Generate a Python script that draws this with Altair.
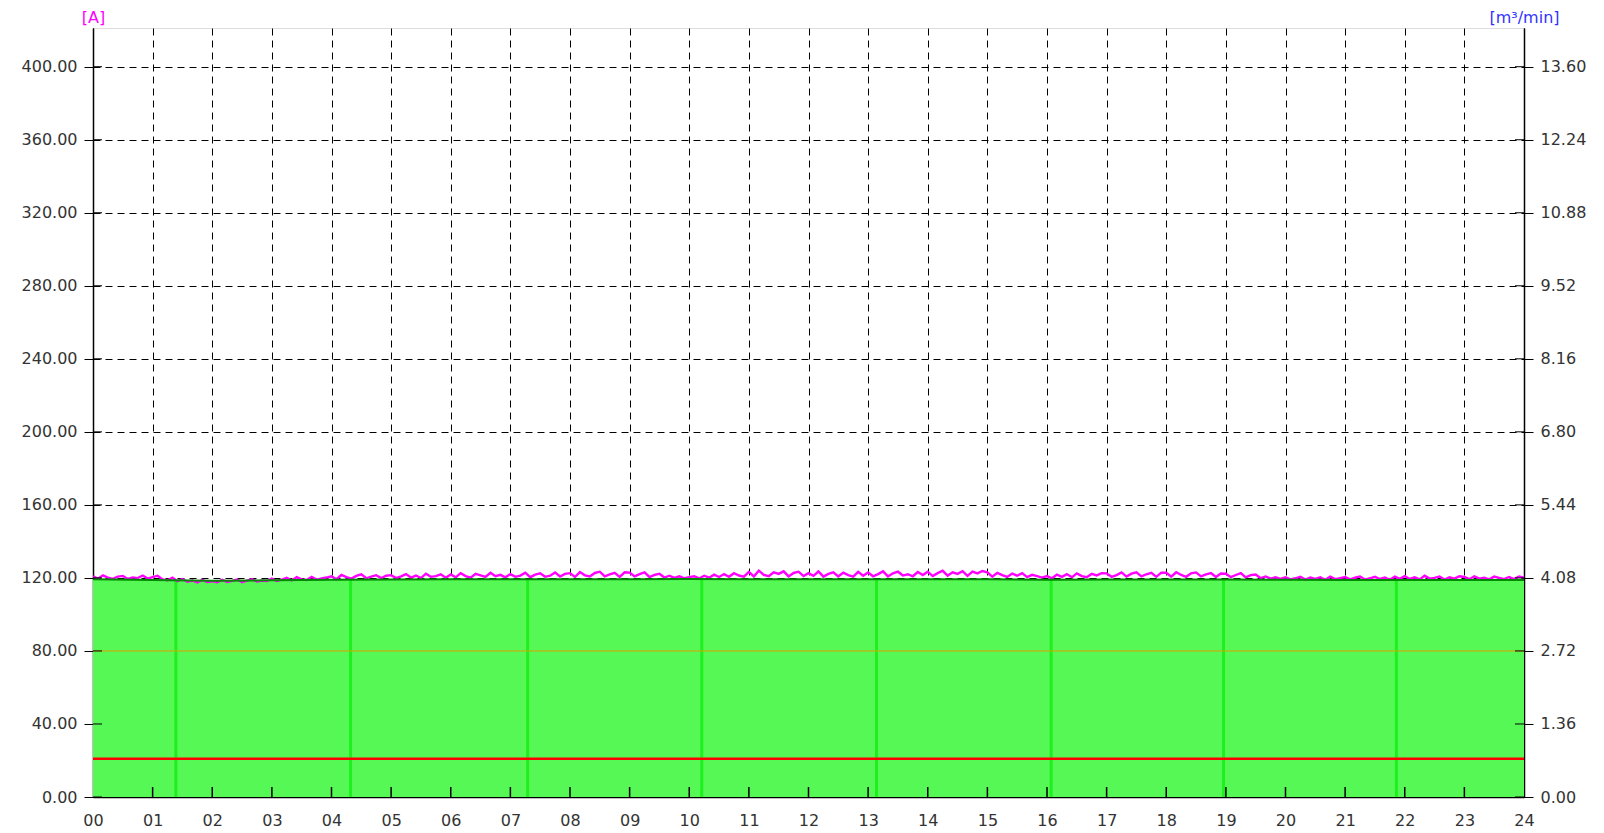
import altair as alt
import pandas as pd

# ---------------- data ----------------
hours_ticks = list(range(0, 25))
y_ticks_a = [0, 40, 80, 120, 160, 200, 240, 280, 320, 360, 400]
y_ticks_flow = [0.0, 1.36, 2.72, 4.08, 5.44, 6.80, 8.16, 9.52, 10.88, 12.24, 13.60]

# current [A], 5-minute samples, one row per hour
current_rows = [
    [120.9, 119.6, 121.4, 120.2, 119.5, 120.7, 121.1, 119.4, 120.3, 119.9, 121.3, 119.6],
    [120.4, 121.2, 119.2, 118.7, 120.1, 118.2, 119.4, 117.9, 118.6, 117.5, 118.9, 117.7],
    [118.2, 117.6, 118.9, 117.8, 118.4, 119.1, 117.7, 118.5, 119.3, 118.0, 118.6, 118.3],
    [119.6, 118.3, 119.1, 120.0, 118.6, 120.4, 119.2, 118.9, 120.6, 119.1, 119.7, 120.2],
    [120.9, 119.3, 121.6, 120.4, 119.6, 121.1, 122.0, 119.8, 120.7, 121.5, 119.9, 121.2],
    [121.5, 119.9, 120.8, 122.1, 120.2, 121.3, 119.9, 122.3, 120.6, 121.0, 122.0, 120.1],
    [121.9, 120.3, 122.6, 121.0, 120.1, 122.2, 121.4, 120.5, 122.8, 120.9, 121.7, 120.3],
    [122.1, 120.6, 121.3, 122.9, 120.4, 121.8, 122.5, 120.6, 121.2, 123.0, 120.8, 122.2],
    [122.6, 120.5, 123.2, 121.4, 120.8, 122.7, 123.4, 120.9, 121.9, 122.8, 120.6, 123.1],
    [122.9, 120.8, 122.1, 123.0, 120.5, 121.6, 122.3, 120.2, 121.2, 120.0, 120.9, 119.8],
    [120.4, 120.9, 119.7, 121.2, 120.1, 121.8, 120.5, 122.1, 120.6, 122.6, 121.3, 120.7],
    [123.3, 120.8, 124.0, 121.6, 120.9, 123.1, 122.2, 123.6, 120.8, 122.7, 123.4, 121.0],
    [122.6, 121.1, 123.5, 120.7, 122.2, 123.1, 120.8, 122.9, 121.5, 120.7, 123.3, 121.2],
    [123.0, 120.9, 122.1, 123.6, 120.8, 122.5, 123.4, 121.3, 122.0, 120.9, 123.2, 121.6],
    [123.4, 121.0, 122.6, 123.9, 121.2, 123.1, 122.2, 123.7, 121.1, 123.4, 122.5, 123.8],
    [123.1, 120.7, 122.8, 121.5, 120.5, 122.4, 121.2, 122.6, 120.4, 121.7, 121.0, 120.2],
    [121.0, 119.8, 121.8, 120.6, 122.1, 120.3, 122.5, 121.0, 120.4, 122.2, 121.4, 122.6],
    [122.5, 120.6, 121.5, 123.0, 120.7, 122.3, 123.1, 120.8, 122.0, 122.8, 120.6, 122.9],
    [122.8, 120.7, 123.1, 121.6, 120.6, 122.5, 123.0, 120.8, 121.9, 122.7, 120.5, 122.4],
    [122.3, 120.4, 121.6, 122.6, 120.3, 121.5, 121.9, 119.9, 120.8, 119.6, 120.3, 119.4],
    [120.3, 119.2, 119.8, 120.6, 119.1, 120.2, 119.5, 120.4, 119.0, 120.7, 119.3, 119.9],
    [120.5, 119.2, 120.1, 120.8, 119.1, 119.8, 120.6, 119.4, 120.2, 119.0, 120.7, 119.5],
    [121.0, 119.4, 120.3, 119.2, 121.2, 119.6, 120.0, 120.8, 119.1, 120.4, 119.6, 120.9],
    [120.5, 119.3, 120.9, 119.6, 120.1, 119.2, 120.7, 120.0, 119.3, 120.5, 119.4, 120.8],
]
current_last = 120.2

# flow (expressed on the [A] scale), hourly
flow_hours = list(range(0, 25))
flow_top = [119.2, 118.8, 118.5, 118.7, 119.0, 119.1, 119.2, 119.2, 119.3, 119.3,
            119.4, 119.3, 119.3, 119.3, 119.3, 119.2, 119.0, 119.1, 119.1, 119.1,
            119.0, 118.9, 118.9, 118.9, 118.9]

stripe_hours = [1.39, 4.32, 7.29, 10.21, 13.14, 16.07, 18.96, 21.86]
stripe_top = [118.8, 118.7, 119.2, 119.4, 119.3, 119.0, 119.1, 118.9]

red_level = 21.0
orange_level = 80.0

# ---------------- build tables ----------------
cur_h, cur_v = [], []
for hr, row in enumerate(current_rows):
    for k, v in enumerate(row):
        cur_h.append(hr + k * 5 / 60)
        cur_v.append(v)
cur_h.append(24.0)
cur_v.append(current_last)
df_cur = pd.DataFrame({"h": cur_h, "a": cur_v})
df_flow = pd.DataFrame({"h": flow_hours, "a": flow_top})
df_stripes = pd.DataFrame({"h": stripe_hours, "a": stripe_top, "a0": [0] * len(stripe_hours)})
df_levels = pd.DataFrame({"h": [0, 24, 0, 24], "a": [red_level, red_level, orange_level, orange_level],
                          "k": ["red", "red", "orange", "orange"]})
df_yt = pd.DataFrame({"a": y_ticks_a})
df_xt = pd.DataFrame({"h": hours_ticks[1:-1]})
df_right = pd.DataFrame({"f": y_ticks_flow})

W, H = 1431, 769
TOP_A = 421.2
TOP_F = TOP_A * 0.034
FONT = "DejaVu Sans"
LBL = 16
TTL = 16

x_enc = alt.X("h:Q", scale=alt.Scale(domain=[0, 24], nice=False, zero=False),
              axis=alt.Axis(values=hours_ticks, format="02d", title=None, ticks=False,
                            labelPadding=15, grid=True, gridColor="#000000", gridDash=[7, 5],
                            gridWidth=1, domainColor="#000000", domainWidth=1.5,
                            labelFontSize=LBL, labelColor="#333333", labelFont=FONT,
                            labelFlush=False))


def y_left(field="a"):
    return alt.Y(f"{field}:Q", scale=alt.Scale(domain=[0, TOP_A], nice=False, zero=True),
                 axis=alt.Axis(values=y_ticks_a, format=".2f", title="[A]", titleAngle=0,
                               titleX=0, titleY=-11, titleAlign="center", titleBaseline="middle",
                               titleColor="#ff00ff", titleFontSize=TTL, titleFontWeight="normal",
                               titleFont=FONT, tickSize=9, tickColor="#000000", labelPadding=7,
                               grid=True, gridColor="#000000", gridDash=[7, 5], gridWidth=1,
                               domainColor="#000000", domainWidth=1.5, labelFontSize=LBL,
                               labelColor="#333333", labelFont=FONT, labelFlush=False))


area = alt.Chart(df_flow).mark_area(color="#55f855", opacity=1, interpolate="linear").encode(
    x=x_enc, y=y_left(), y2=alt.datum(0))
stripes = alt.Chart(df_stripes).mark_rule(color="#1ef01e", strokeWidth=3).encode(
    x=x_enc, y=y_left(), y2="a0:Q")
magenta = alt.Chart(df_cur).mark_line(color="#ff00ff", strokeWidth=2.4).encode(
    x=x_enc, y=y_left())
flowline = alt.Chart(df_flow).mark_line(color="#008a00", strokeWidth=2).encode(
    x=x_enc, y=y_left())
levels = alt.Chart(df_levels).mark_line().encode(
    x=x_enc, y=y_left(), detail="k:N",
    color=alt.Color("k:N", scale=alt.Scale(domain=["red", "orange"], range=["#ff0000", "#e0a000"]),
                    legend=None),
    strokeWidth=alt.StrokeWidth("k:N", scale=alt.Scale(domain=["red", "orange"], range=[2.5, 1]),
                                legend=None))
in_ticks_left = alt.Chart(df_yt).mark_rule(color="#000000", strokeWidth=1).encode(
    x=alt.value(0), x2=alt.value(9), y=y_left())
in_ticks_bottom = alt.Chart(df_xt).mark_rule(color="#000000", strokeWidth=1.5).encode(
    x=x_enc, y=alt.value(H), y2=alt.value(H - 10))

left = alt.layer(area, stripes, magenta, flowline, levels, in_ticks_left, in_ticks_bottom)

y_right = alt.Y("f:Q", scale=alt.Scale(domain=[0, TOP_F], nice=False, zero=True),
                axis=alt.Axis(orient="right", values=y_ticks_flow, format=".2f", title="[m³/min]",
                              titleAngle=0, titleX=0, titleY=-11, titleAlign="center",
                              titleBaseline="middle", titleColor="#3333ff", titleFontSize=TTL,
                              titleFontWeight="normal", titleFont=FONT, tickSize=9,
                              tickColor="#000000", labelPadding=7, grid=False,
                              domainColor="#000000", domainWidth=1.5, labelFontSize=LBL,
                              labelColor="#333333", labelFont=FONT, labelFlush=False))
right = alt.Chart(df_right).mark_rule(color="#000000", strokeWidth=1).encode(
    x=alt.value(W - 9), x2=alt.value(W), y=y_right)

chart = alt.layer(left, right).resolve_scale(y="independent").properties(
    width=W, height=H, autosize=alt.AutoSizeParams(type="none"),
    padding={"left": 85, "top": 20, "right": 70, "bottom": 34},
).configure_view(stroke=None).configure(background="#ffffff")

chart.save("out.html", embed_options={"renderer": "svg", "actions": False})
